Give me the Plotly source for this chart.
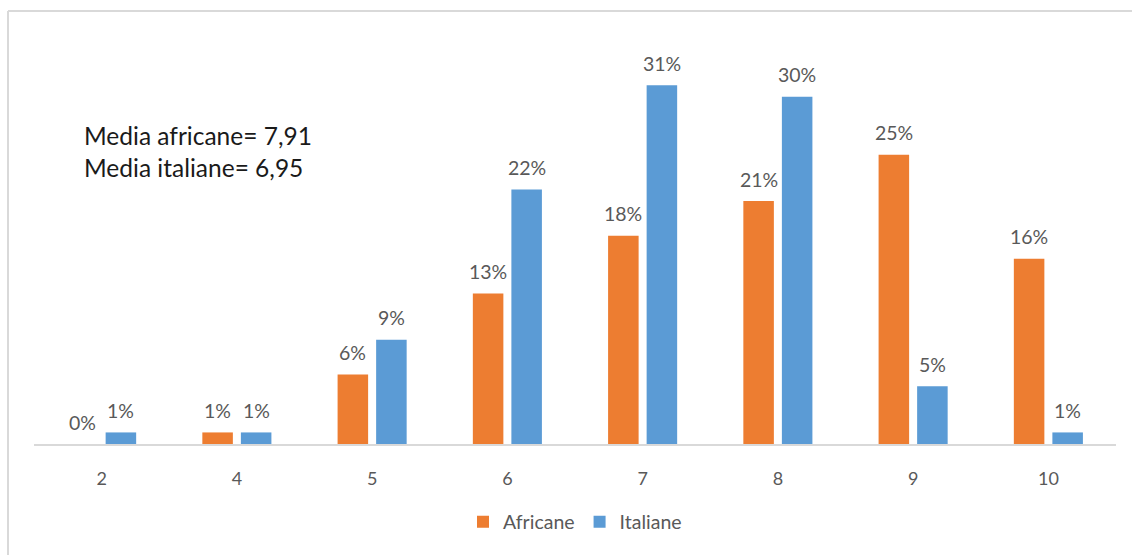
import plotly.graph_objects as go

categories = ["2", "4", "5", "6", "7", "8", "9", "10"]
africane = [0, 1, 6, 13, 18, 21, 25, 16]
italiane = [1, 1, 9, 22, 31, 30, 5, 1]
series_names = ["Africane", "Italiane"]
mean_lines = ["Media africane= 7,91", "Media italiane= 6,95"]

ORANGE = "#ED7D31"
BLUE = "#5B9BD5"
GRAY = "#595959"
FONT = "Lato"

W, H = 1132, 555
ML, MR, MT, MB = 34, 16, 39, 111
PW = W - ML - MR
PH = H - MT - MB

fig = go.Figure()
fig.add_trace(go.Bar(x=categories, y=africane, name=series_names[0],
                     marker=dict(color=ORANGE, line=dict(width=0))))
fig.add_trace(go.Bar(x=categories, y=italiane, name=series_names[1],
                     marker=dict(color=BLUE, line=dict(width=0))))

annotations = []
offset = 19.25
for vals, sh in ((africane, -offset), (italiane, offset)):
    for i, v in enumerate(vals):
        annotations.append(dict(x=i, y=v, xref="x", yref="y", text=f"{v}%",
                                showarrow=False, xshift=sh, yshift=22,
                                yanchor="middle", xanchor="center",
                                font=dict(family=FONT, size=19.5, color=GRAY)))

def px_x(p):
    return (p - ML) / PW

def px_y(p):
    return (MT + PH - p) / PH

for i, t in enumerate(mean_lines):
    annotations.append(dict(x=px_x(85), y=px_y(135 + 32 * i), xref="paper", yref="paper",
                            text=t, showarrow=False, xanchor="left", yanchor="middle",
                            xshift=-3,
                            font=dict(family=FONT, size=24.5, color="#1a1a1a")))

shapes = [
    dict(type="line", xref="paper", yref="paper", x0=px_x(8), x1=px_x(1140),
         y0=px_y(11), y1=px_y(11), line=dict(color="#D9D9D9", width=2)),
    dict(type="line", xref="paper", yref="paper", x0=px_x(8), x1=px_x(8),
         y0=px_y(11), y1=px_y(560), line=dict(color="#D9D9D9", width=2)),
]

fig.update_layout(
    width=W, height=H,
    margin=dict(l=ML, r=MR, t=MT, b=MB),
    paper_bgcolor="white", plot_bgcolor="white",
    barmode="group", bargap=0.43, bargroupgap=0.208,
    font=dict(family=FONT, color=GRAY),
    showlegend=True,
    legend=dict(orientation="h", x=0.5, xanchor="center", y=-(522 - (MT + PH)) / PH,
                yanchor="middle", font=dict(family=FONT, size=19.5, color=GRAY),
                itemwidth=30, traceorder="normal"),
    annotations=annotations,
    shapes=shapes,
    xaxis=dict(type="category", range=[-0.5, 7.5], showgrid=False, zeroline=False,
               showline=True, linecolor="#D9D9D9", linewidth=2,
               ticks="", ticklabelstandoff=17,
               tickfont=dict(family=FONT, size=18, color=GRAY)),
    yaxis=dict(range=[0, 35], visible=False, showgrid=False, zeroline=False),
)

fig.write_html("out.html")
